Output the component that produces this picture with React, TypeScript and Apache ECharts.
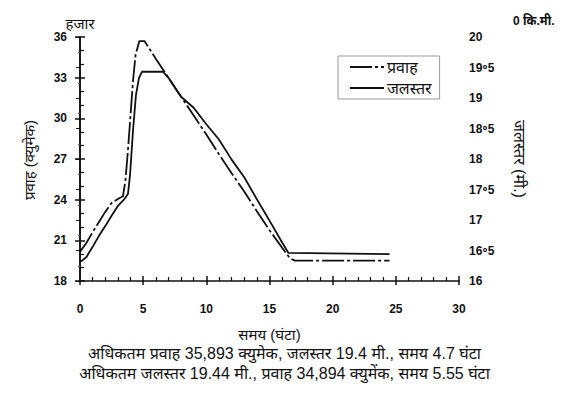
import React, { useEffect, useRef } from "react";
import * as echarts from "echarts";

const flowTime = [0, 0.5, 1, 1.5, 2, 2.5, 3, 3.4, 3.6, 3.8, 4.0, 4.2, 4.4, 4.7, 5.1, 6, 7, 8, 9, 10, 11, 12, 13, 14, 15, 16, 16.6, 17.0, 24.5];
const flowValues = [20.15, 20.8, 21.6, 22.35, 23.1, 23.75, 24.05, 24.25, 25.45, 27.7, 30.25, 32.8, 34.7, 35.7, 35.7, 34.4, 33.0, 31.6, 30.2, 28.8, 27.35, 25.95, 24.6, 23.15, 21.75, 20.45, 19.7, 19.5, 19.5];

const levelTime = [0, 0.5, 1, 1.5, 2, 2.5, 3, 3.5, 3.8, 3.96, 4.2, 4.43, 4.67, 4.9, 6.57, 7, 8, 9, 10, 11, 12, 13, 14, 15, 16, 16.5, 24.5];
const levelValues = [16.31, 16.39, 16.56, 16.74, 16.9, 17.07, 17.23, 17.34, 17.43, 17.74, 18.48, 19.05, 19.33, 19.43, 19.43, 19.33, 19.02, 18.84, 18.57, 18.32, 17.99, 17.7, 17.34, 16.99, 16.63, 16.46, 16.44];

const seriesNames = ["प्रवाह", "जलस्तर"];
const noteLines = [
  "अधिकतम प्रवाह 35,893 क्युमेक, जलस्तर 19.4 मी., समय 4.7 घंटा",
  "अधिकतम जलस्तर 19.44 मी., प्रवाह 34,894 क्युमेंक, समय 5.55 घंटा",
];

const FONT = "Liberation Sans, Arial, Noto Sans, sans-serif";

export default function App() {
  const ref = useRef<HTMLDivElement>(null);
  useEffect(() => {
    if (!ref.current) return;
    const chart = echarts.init(ref.current, null, { renderer: "svg" });
    const pair = (t: number[], v: number[]) => t.map((x, i) => [x, v[i]]);
    chart.setOption({
      animation: false,
      backgroundColor: "#ffffff",
      textStyle: { fontFamily: FONT },
      grid: { left: 80, right: 110, top: 37, bottom: 112 },
      legend: {
        data: seriesNames,
        orient: "vertical",
        left: 338,
        top: 56,
        itemWidth: 34,
        itemHeight: 14,
        itemGap: 5,
        padding: [3, 8, 3, 11],
        borderColor: "#999",
        borderWidth: 1,
        backgroundColor: "#fff",
        itemStyle: { opacity: 0 },
        textStyle: { fontSize: 16, color: "#111", fontFamily: FONT, padding: [0, 0, 0, -2] },
      },
      xAxis: [
        {
          type: "value",
          min: 0,
          max: 30,
          interval: 5,
          name: "समय (घंटा)",
          nameLocation: "middle",
          nameGap: 46,
          nameTextStyle: { fontSize: 15, color: "#111" },
          axisLine: { lineStyle: { color: "#111", width: 1.6 } },
          axisTick: { inside: true, length: 5, lineStyle: { color: "#111", width: 1.5 } },
          minorTick: { show: true, splitNumber: 5, length: 4, lineStyle: { color: "#111", width: 1.2 } },
          axisLabel: { margin: 22, fontSize: 12, fontWeight: "bold", color: "#111" },
          splitLine: { show: false },
        },
        {
          type: "value",
          min: 0,
          max: 30,
          interval: 5,
          position: "bottom",
          axisLine: { show: false },
          axisTick: { inside: false, length: 4, lineStyle: { color: "#111", width: 1.5 } },
          axisLabel: { show: false },
          splitLine: { show: false },
        },
      ],
      yAxis: [
        {
          type: "value",
          min: 18,
          max: 36,
          interval: 3,
          position: "left",
          name: "हजार",
          nameLocation: "end",
          nameGap: 0,
          nameTextStyle: { fontSize: 15, color: "#111", align: "center" },
          axisLine: { show: true, lineStyle: { color: "#111", width: 1.6 } },
          axisTick: { show: true, inside: true, length: 5, lineStyle: { color: "#111", width: 1.5 } },
          minorTick: { show: true, splitNumber: 3, length: 4, lineStyle: { color: "#111", width: 1.2 } },
          axisLabel: { margin: 13, fontSize: 12, fontWeight: "bold", color: "#111" },
          splitLine: { show: false },
        },
        {
          type: "value",
          min: 16,
          max: 20,
          interval: 0.5,
          position: "right",
          name: "जलस्तर (मी.)",
          nameLocation: "middle",
          nameRotate: -90,
          nameGap: 52,
          nameTextStyle: { fontSize: 16, color: "#111" },
          axisLine: { show: true, lineStyle: { color: "#111", width: 1.5 } },
          axisTick: { show: true, inside: true, length: 4, lineStyle: { color: "#111", width: 1 } },
          minorTick: { show: true, splitNumber: 2, length: 2, lineStyle: { color: "#555", width: 1 } },
          axisLabel: {
            margin: 10,
            fontSize: 12,
            fontWeight: "bold",
            color: "#111",
            formatter: (v: number) => (Number.isInteger(v) ? String(v) : Math.floor(v) + "॰5"),
          },
          splitLine: { show: false },
        },
        {
          type: "value",
          min: 18,
          max: 36,
          interval: 3,
          position: "left",
          axisLine: { show: false },
          axisTick: { show: true, inside: false, length: 5, lineStyle: { color: "#111", width: 1.5 } },
          axisLabel: { show: false },
          splitLine: { show: false },
        },
      ],
      graphic: [
        { type: "text", left: 513, top: 15, style: { text: "0 कि.मी.", fontSize: 12, fontWeight: "bold", fill: "#111", fontFamily: FONT } },
        {
          type: "text",
          x: 29,
          y: 160,
          rotation: Math.PI / 2,
          style: { text: "प्रवाह (क्युमेक)", fontSize: 15, fill: "#111", fontFamily: FONT, align: "center", verticalAlign: "middle" },
        },
        { type: "text", left: "center", top: 345, style: { text: noteLines[0], fontSize: 16, fill: "#111", fontFamily: FONT } },
        { type: "text", left: "center", top: 365, style: { text: noteLines[1], fontSize: 16, fill: "#111", fontFamily: FONT } },
      ],
      series: [
        {
          name: seriesNames[0],
          type: "line",
          xAxisIndex: 0,
          yAxisIndex: 0,
          symbol: "none",
          data: pair(flowTime, flowValues),
          lineStyle: { color: "#111", width: 1.8, type: [22, 3, 3, 3] },
          itemStyle: { color: "#111" },
        },
        {
          name: seriesNames[1],
          type: "line",
          xAxisIndex: 0,
          yAxisIndex: 1,
          symbol: "none",
          data: pair(levelTime, levelValues),
          lineStyle: { color: "#111", width: 1.8 },
          itemStyle: { color: "#111" },
        },
      ],
    });
    return () => chart.dispose();
  }, []);
  return <div ref={ref} style={{ width: 569, height: 393, position: "absolute", left: 0, top: 0 }} />;
}
